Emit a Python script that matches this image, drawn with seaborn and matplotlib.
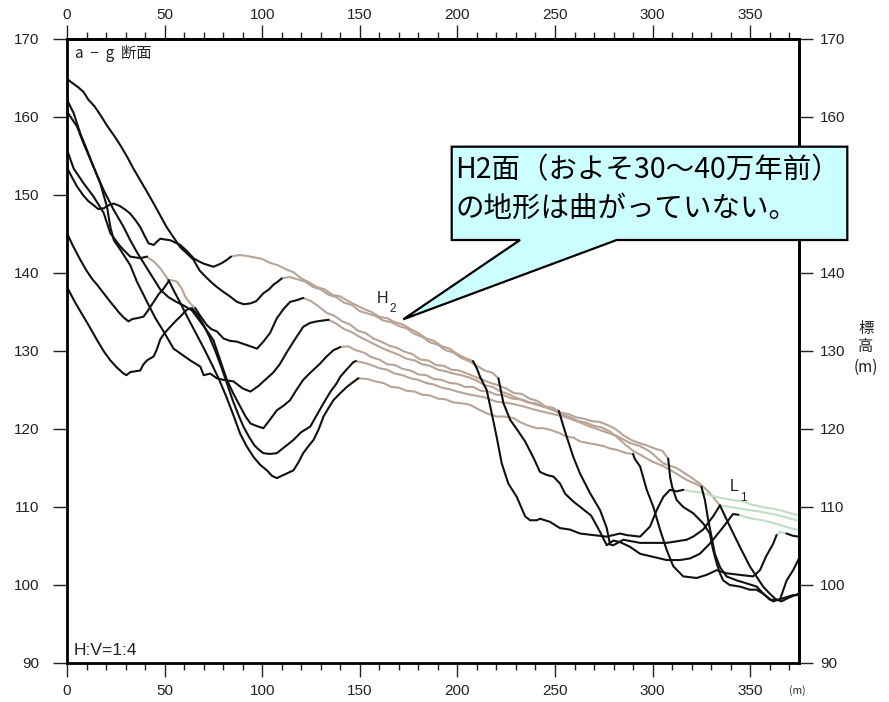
import numpy as np
import pandas as pd
import matplotlib
matplotlib.use("Agg")
import matplotlib.pyplot as plt
import seaborn as sns
from matplotlib.patches import Polygon
from matplotlib.ticker import MultipleLocator, NullLocator

sns.set_theme(style="ticks")
plt.rcParams["font.family"] = ["Noto Sans CJK JP", "DejaVu Sans"]

# ---- cross-section profiles a-g: (distance m, elevation m) ----
prof_a = [(0,164.9),(2.5,164.4),(5.8,163.8),(8.5,163.2),(11,162.2),(14,161.4),(17,160.3),(20.5,158.9),(24.7,157.4),(27.5,156.3),(30.8,154.9),(34,153.4),(37.5,151.9),(41,150.4),(44.2,149),(47.5,147.5),(51,145.9),(54.5,144.6),(58,143.3),(61.5,142.5),(64.8,141.7),(68,140.3),(71.5,139.4),(74,138.8),(76.8,138.2),(80,137.6),(83.5,137),(87,136.3),(90.5,136),(94,136.1),(97,136.4),(100.6,137.4),(103.5,137.9),(105.8,138.5),(108,138.9),(110,139.3),
          (114,139.5),(118,139.2),(122,138.9),(126,138.2),(130,137.9),(134,137.2),(138,136.9),(142,136.2),(146,135.9),(150,135.1),(154,134.8),(158,134.5),(162,133.9),(166,133.7),(170,133.2),(174,132.9),(178,132.2),(182,131.8),(186,131.1),(190,130.8),(194,130.1),(198,129.8),(202,129.1),(206,128.7),(210,128.1),(214,127.5),(218,127.2),(221,126.5),
          (223.6,123.3),(227,121.2),(231.2,119.7),(234.7,118.4),(239,116.3),(242.3,114.5),(245.8,114.1),(249.2,113.9),(252.6,113),(255.2,111.7),(259.4,110.7),(264,109.8),(268.5,108.9),(273.1,106.8),(276.5,105.1),(279.9,105.7),(283.3,105.5),(288.4,104.9),(293.6,104),(300.4,103.6),(307.2,103.2),(314,103.2),(319.1,103.4),(324.2,104),(329.3,105.3),(336.1,107.4),(341.2,109.1),(344,109),
          (346.3,108.8),(351,108.5),(356.5,108.3),(361,108),(365.2,107.7),(369,107.4),(373.8,107.1),(375,107)]
spans_a = [("H2", 110, 221), ("L1", 344, 375)]

prof_b = [(0,153.5),(2.5,152.3),(5.1,151.1),(8.5,149.9),(11,149.2),(13.6,148.7),(16,148.2),(18.8,148.3),(21.5,148.7),(23.9,148.9),(27,148.6),(30,148.1),(32.4,147.6),(35,146.8),(37.5,145.9),(39.5,144.9),(41.8,143.8),(44.4,143.6),(46,144),(47.8,144.4),(50,144.3),(52.9,144.2),(55.5,143.9),(58,143.6),(61.5,142.8),(64.8,141.9),(67.5,141.5),(70,141.2),(72.5,141),(75,140.8),(77,141),(79.5,141.3),(82,141.7),(84,142.1),
          (88,142.3),(92,142.2),(96,142),(100,141.8),(104,141.3),(108,141),(112,140.5),(116,140.1),(120,139.3),(124,138.8),(128,138.2),(132,137.9),(136,137.2),(140,137),(144,136.4),(148,135.9),(152,135.4),(156,135),(160,134.4),(164,134.2),(168,133.7),(172,133.4),(176,132.8),(180,132.3),(184,131.6),(188,131.3),(192,130.6),(196,130.3),(200,129.6),(204,129.1),(208,128.7),
          (209.9,127.8),(211.6,126.7),(215,125),(217.6,122),(220.1,119),(222.7,115.6),(226.1,113),(230.4,111.3),(234.7,108.8),(237.2,108.3),(240.7,108.3),(242.3,108.5),(247.4,108.1),(252.5,107.3),(257.7,107.1),(262.8,106.6),(269.6,106.4),(276.5,106.2),(283.3,106.6),(286.7,106.4),(293.6,106.2),(298.7,107.5),(302.1,109.6),(305.5,111.3),(308.9,112.2),(312.3,112),(315.7,112.2),
          (320,112),(325.9,111.8),(331,111.4),(336.1,111.1),(341,110.9),(346.3,110.7),(351,110.3),(356.5,110),(361,109.8),(365.2,109.6),(369,109.3),(373.8,109),(375,108.9)]
spans_b = [("H2", 84, 208), ("L1", 315.7, 375)]

prof_c = [(0,162.2),(3.4,160.5),(6.8,157.9),(10.2,155.8),(13.6,153.6),(17,151.5),(20.5,148.5),(22.2,145.9),(24,144.2),(27.3,143),(32.4,141),(35.8,138.9),(41,136.3),(45.3,134.2),(49.5,132.5),(54.6,130.3),(58,129.7),(63.1,128.8),(68.3,128),(70,126.9),(73.4,127.1),(76.8,126.5),(80.2,126.3),(85.3,126.1),(90,125.2),(94,124.8),(98,125.5),(102.4,126.5),(105.5,127.2),(109,128.3),(112.5,129.8),(116,131.2),(121,133.1),(124.5,133.6),(128,133.8),(131,133.9),(134,134),
          (138,133.5),(142,132.8),(146,132.4),(150,131.8),(154,131.3),(158,130.8),(162,130.3),(166,129.9),(170,129.5),(174,129),(178,128.8),(182,128.3),(186,128.1),(190,127.6),(194,127.4),(198,127.1),(202,126.9),(206,126.6),(210,126.2),(214,125.6),(218,125.4),(222,124.8),(226,124.5),(230,124),(234,123.7),(238,123.3),(242,123),(246,122.7),(250,122.3),(254,121.8),(258,121.5),(262,121),(266,120.8),(270,120.4),(274,120.2),(278,119.7),(282,118.9),(286,118),(290,117.2),(295,116.5),(300,115.8),(305,115.3),(310,114.6),(314,114),(318,113.4),(322.6,112.9),(325,112.6),
          (326.8,110.9),(328.5,108.3),(330.2,106.2),(331.9,104),(334.5,102.3),(337.9,101.1),(343,100.6),(348.2,100.2),(353.3,99.8),(356.7,98.9),(360.1,98.1),(365.2,98.1),(368.7,100.6),(372,101.9),(375,103.4)]
spans_c = [("H2", 134, 325)]

prof_d = [(0,160.7),(5.1,158.8),(8.5,156.6),(13.6,153.6),(18.8,150.6),(23.9,148.1),(29,145.9),(32.4,144.2),(36,142.6),(40,141),(44,139.4),(48,137.8),(52,136.9),(56,136.3),(60,135.8),(64,135.2),(67,134.2),(70,133.2),(72.5,132.3),(75,131.4),(78.5,128.8),(81.9,126.3),(85.3,124.5),(88.7,122.9),(91.5,121.6),(94,120.7),(97,120.4),(100.6,120.1),(104,121.2),(107.5,122.4),(111,123),(114.3,123.7),(117.5,125),(121,126.3),(125,127.3),(129.7,128.4),(133,129.3),(136.5,130.1),(140,130.5),
          (144,130.6),(148,130.1),(152,129.8),(156,129.2),(160,128.9),(164,128.3),(168,128.2),(172,127.7),(176,127.5),(180,127),(184,126.9),(188,126.4),(192,126.3),(196,125.9),(200,125.8),(204,125.4),(208,125.4),(212,124.9),(216,124.8),(220,124.4),(224,124.3),(228,123.9),(232,123.8),(236,123.4),(240,123.3),(244,122.9),(248,122.7),(252,122.3),
          (254,120.6),(256,119),(259.4,116.4),(262.8,114.3),(267.9,111.8),(273.1,109.6),(276.5,107.3),(278.2,105.2),(279.9,105.1),(285,105.8),(293.6,105.4),(300.4,105.4),(307.2,105.4),(312.3,105.6),(317.4,105.8),(320.8,106.2),(325.9,107.1),(331,108.8),(334.5,110.2),
          (340,110),(344.7,109.8),(350,109.6),(355,109.4),(359,109.2),(363.5,109),(368,108.7),(373.8,108.3),(375,108.2)]
spans_d = [("H2", 140, 252), ("L1", 334.5, 375)]

prof_e = [(0,155.8),(3.4,153.4),(8.5,151.5),(13.6,149.8),(18.8,147.7),(22.2,145.1),(27.3,143.4),(32.4,142.1),(37.5,141.9),(41,142.1),
          (41.8,141.9),(44.4,141.5),(47.8,140.6),(50.3,139.7),(52,139.1),
          (55,137.6),(58,136.2),(62,134.2),(66,132.3),(70,130.4),(74,128.4),(78,126.3),(82,123.9),(85.5,121.6),(88.7,119.4),(92,117.8),(95.6,116.4),(99,115.4),(102.4,114.7),(105,114),(107.5,113.7),(110,114),(112.6,114.3),(116,114.7),(118.5,115.7),(121,116.9),(124,117.9),(126.3,118.6),(129,120),(131.4,121.6),(134,122.7),(136.5,123.7),(140,124.6),(143.4,125.4),(146.5,126),(149.3,126.5),
          (154,126.4),(158,126.1),(162,125.9),(166,125.4),(170,125.3),(174,124.9),(178,124.8),(182,124.4),(186,124.3),(190,123.9),(194,123.8),(198,123.4),(202,123.3),(206.5,123.1),(211,122.5),(215,122),(220.1,121.6),(224,121.6),(228.7,121.4),(232,120.9),(235.5,120.5),(240.7,120.1),(244,120.1),(247.5,119.9),(252,119.5),(256,119),(259.5,118.9),(262.8,118.4),(267,118.2),(271.3,118),(275,117.8),(278.2,117.5),(282,117.3),(286.7,116.9),(290,116.8),
          (290.8,116.2),(293.6,115.2),(297,112.2),(300.4,110),(303.8,107.1),(307.2,104.5),(310.6,102.4),(315.7,101.1),(322.6,100.9),(327.7,101.3),(332.8,101.9),(337.9,101.5),(344.7,101.3),(351.5,101.1),(355,101.9),(358,103.6),(361.8,105.3),(363.5,106.4),
          (365.2,106.8),(368.6,106.6),(372,106.3),(375,106.2)]
spans_e = [("H2", 41, 52), ("H2", 149.3, 290), ("L1", 363.5, 368.6)]

prof_f = [(0,145.1),(3,143.5),(6.8,141.7),(10,140.3),(13,139.2),(15.4,138.5),(18.8,137.4),(22.2,136.3),(24.5,135.6),(26.4,135),(29,134.3),(31.5,133.8),(33.5,134.1),(35.8,134.2),(39.2,134.4),(41.5,135.2),(44.4,136.3),(47,137.3),(49.5,138),(52,138.9),
          (53,139.1),(56.3,138.9),(58.8,138),(60.5,137),(63.1,136.1),(65.7,135.5),
          (68,134.6),(71.7,133.3),(74,132.8),(76.8,132.5),(80.2,131.6),(83.5,131.3),(87,131.2),(90.5,130.9),(94,130.6),(97.3,130.3),(100.6,131.2),(104,132.3),(107.5,134.2),(111,135.4),(114.3,136.3),(117.5,136.5),(121,136.8),
          (125,136.4),(129,135.7),(133,134.9),(137,134.5),(141,133.8),(145,133.4),(149,132.6),(153,132.3),(157,131.6),(161,131.2),(165,130.7),(169,130.4),(173,129.9),(177,129.6),(181,128.9),(185,128.8),(189,128.2),(193,128.1),(197,127.6),(201,127.5),(205,127.1),(209,126.7),(213,126.3),(217,125.9),(221,125.6),(225,125.2),(229,124.6),(233,124.5),(237,123.9),(241,123.6),(245,122.9),(249,122.7),(253,122.1),(257,121.9),(261,121.5),(265,121.3),(269,121),(273,120.9),(277,120.5),(281,120),(285,119.2),(289,118.6),(293,118.2),(297,117.9),(301,117.5),(305,117.2),(308,116.2),
          (309,113.8),(310,112.6),(312.3,110.9),(315.7,110),(320.8,109.2),(325.9,107.9),(329.3,106.6),(331,104.5),(332.8,102.8),(334.5,101.5),(336.1,100.6),(339.5,100),(344.7,99.8),(349.8,99.4),(353.2,99.4),(356.5,98.9),(361.7,97.9),(366.8,98.3),(371.9,98.7),(375,98.7)]
spans_f = [("H2", 52, 65.7), ("H2", 121, 308)]

prof_g = [(0,138.2),(4,136.3),(8,134.6),(12,132.9),(15.4,131.4),(19,129.9),(22.2,128.8),(25.5,127.9),(29,127.1),(30.5,126.9),(32.4,127.3),(35,127.4),(37.5,127.5),(39.2,128.3),(41,128.8),(44.4,129.3),(46,130.2),(47.8,131.5),(50,132.3),(52.9,133.1),(55.5,133.8),(58,134.4),(61.4,135.3),(64,135.5),(67,134.6),(70,133.3),(73,131.8),(76,130),(79,128),(82,125.8),(85,123.6),(88,121.7),(90.4,120.3),(93,119.1),(96,117.9),(98.5,117.3),(100.6,116.9),(104,116.8),(107.5,116.9),(111,117.6),(116,118.6),(120,119.6),(124.6,120.3),(128,121.8),(131.4,123.3),(135,124.8),(138,125.8),(140,126.7),(143.5,127.7),(146.8,128.6),(148,128.7),
          (152,128.5),(156,128.2),(160,127.8),(164,127.6),(168,127.1),(172,126.9),(176,126.5),(180,126.3),(184,125.9),(188,125.7),(192,125.3),(196,125.1),(200,124.8),(206.5,124.4),(213.3,124.1),(220.1,123.5),(226.9,123.3),(233.8,122.9),(240.7,122.4),(247.5,122),(254.4,121.6),(261.2,121),(268,120.3),(274.9,119.7),(281.7,119.1),(288.5,118.2),(293.6,117.8),(298.7,117.1),(305.5,115.6),(312.3,115),(319.1,113.9),(324.2,113),(329.3,111.8),(334.5,110.2),
          (339.6,107.5),(344.7,104.9),(349.8,102.4),(353.2,101.1),(356.6,99.8),(360,98.9),(363,98.2),(366,97.9),(370,98.4),(375,98.9)]
spans_g = [("H2", 148, 334.5)]

profiles = {"a": (prof_a, spans_a), "b": (prof_b, spans_b), "c": (prof_c, spans_c),
            "d": (prof_d, spans_d), "e": (prof_e, spans_e), "f": (prof_f, spans_f),
            "g": (prof_g, spans_g)}

x_ticks = [0, 50, 100, 150, 200, 250, 300, 350]
y_ticks = [90, 100, 110, 120, 130, 140, 150, 160, 170]

surface_colors = {"black": "#111111", "H2": "#b8a496", "L1": "#bedfc4"}


def split_profile(points, spans):
    """Cut one profile into pieces: terrace surfaces and the black remainder."""
    pts = np.asarray(points, dtype=float)
    xs = pts[:, 0]
    pieces, pos = [], xs[0]
    for kind, a, b in sorted(spans, key=lambda s: s[1]):
        if a > pos:
            pieces.append((pos, a, "black"))
        pieces.append((a, b, kind))
        pos = b
    if pos < xs[-1]:
        pieces.append((pos, xs[-1], "black"))
    out = []
    for a, b, kind in pieces:
        m = (xs >= a - 1e-9) & (xs <= b + 1e-9)
        out.append((kind, pts[m]))
    return out


rows = []
for name, (pts, spans) in profiles.items():
    for i, (kind, seg) in enumerate(split_profile(pts, spans)):
        for k, (x, y) in enumerate(seg):
            rows.append({"x": x, "y": y, "kind": kind, "seg": f"{name}{i}", "order": k})
df = pd.DataFrame(rows)

fig = plt.figure(figsize=(8.89, 7.02), dpi=100)
ax = fig.add_axes([67 / 889, 39 / 702, 732 / 889, 624 / 702])
ax.set_facecolor("white")

colored = df[df["kind"] != "black"]
sns.lineplot(data=colored, x="x", y="y", hue="kind", units="seg", estimator=None,
             sort=False, palette=surface_colors, linewidth=1.5, legend=False, ax=ax,
             solid_joinstyle="round", solid_capstyle="round")
sns.lineplot(data=df[df["kind"] == "black"], x="x", y="y", units="seg", estimator=None,
             sort=False, color=surface_colors["black"], linewidth=1.5, legend=False, ax=ax,
             solid_joinstyle="round", solid_capstyle="round")

ax.set_xlim(0, 375)
ax.set_ylim(90, 170)
ax.set_xlabel("")
ax.set_ylabel("")

tick_family = ["Liberation Sans Narrow", "Liberation Sans", "DejaVu Sans"]
tick_size = 11
for sp in ax.spines.values():
    sp.set_visible(True)
    sp.set_linewidth(2.0)
    sp.set_color("black")

ax.set_xticks(x_ticks)
ax.xaxis.set_minor_locator(MultipleLocator(10))
ax.set_yticks(y_ticks)
ax.yaxis.set_minor_locator(NullLocator())
ax.tick_params(axis="x", which="major", direction="out", length=10, width=1, pad=5,
               top=False, bottom=True, labelsize=tick_size, colors="#222222")
ax.tick_params(axis="x", which="minor", direction="out", length=5, width=1,
               top=False, bottom=True, colors="#222222")
ax.tick_params(axis="y", which="major", direction="out", length=10, width=1, pad=10,
               left=True, right=False, labelsize=tick_size, colors="#222222")
for lab in ax.get_xticklabels() + ax.get_yticklabels():
    lab.set_fontfamily(tick_family)

top = ax.secondary_xaxis("top")
top.set_xticks(x_ticks)
top.xaxis.set_minor_locator(MultipleLocator(10))
top.tick_params(axis="x", which="major", direction="out", length=10, width=1, pad=2.5,
                labelsize=tick_size, colors="#222222")
top.tick_params(axis="x", which="minor", direction="out", length=5, width=1, colors="#222222")
top.spines["top"].set_linewidth(2.0)
for lab in top.get_xticklabels():
    lab.set_fontfamily(tick_family)

right = ax.secondary_yaxis("right")
right.set_yticks(y_ticks)
right.yaxis.set_minor_locator(NullLocator())
right.tick_params(axis="y", which="major", direction="out", length=10, width=1, pad=5,
                  labelsize=tick_size, colors="#222222")
right.spines["right"].set_linewidth(2.0)
for lab in right.get_yticklabels():
    lab.set_fontfamily(tick_family)

# panel annotations
ax.text(0.011, 0.976, "a  −  g  断面", transform=ax.transAxes, fontsize=11,
        ha="left", va="center", color="#222222")
ax.text(0.0095, 0.02, "H:V=1:4", transform=ax.transAxes, fontsize=12.5,
        family=["Liberation Sans", "DejaVu Sans"], ha="left", va="center", color="#222222")

# surface labels
lab_family = ["Liberation Sans", "DejaVu Sans"]
ax.text(158.9, 136.1, "H", fontsize=11.5, family=lab_family, ha="left", va="baseline", color="#222222")
ax.text(165.0, 135.0, "2", fontsize=8.5, family=lab_family, ha="left", va="baseline", color="#222222")
ax.text(339.6, 112.0, "L", fontsize=11.5, family=lab_family, ha="left", va="baseline", color="#222222")
ax.text(344.8, 110.8, "1", fontsize=8.5, family=lab_family, ha="left", va="baseline", color="#222222")

# right-hand axis title and unit
for txt, ypx in [("標", 328), ("高", 347), ("(m)", 367)]:
    fig.text(866 / 889, 1 - ypx / 702, txt, fontsize=11, ha="center", va="center", color="#222222")
fig.text(797 / 889, 1 - 691 / 702, "(m)", fontsize=7.5, ha="center", va="center", color="#222222")

# callout balloon
W, H = 889.0, 702.0
L, R, T, B = 451.7, 847.3, 146.7, 240.0
balloon_px = [(L, T), (R, T), (R, B), (616.7, B), (403.3, 319.3), (520.0, B), (L, B)]
balloon = Polygon([(px / W, 1 - py / H) for px, py in balloon_px], closed=True,
                  facecolor="#ccffff", edgecolor="black", linewidth=1.6,
                  transform=fig.transFigure, zorder=10)
fig.add_artist(balloon)
fig.text(455 / W, 1 - 170 / H, "H2面（およそ30～40万年前）", fontsize=20.5,
         ha="left", va="center", color="black", zorder=11)
fig.text(455 / W, 1 - 209 / H, "の地形は曲がっていない。", fontsize=20.5,
         ha="left", va="center", color="black", zorder=11)

fig.savefig("out.png", dpi=100)
